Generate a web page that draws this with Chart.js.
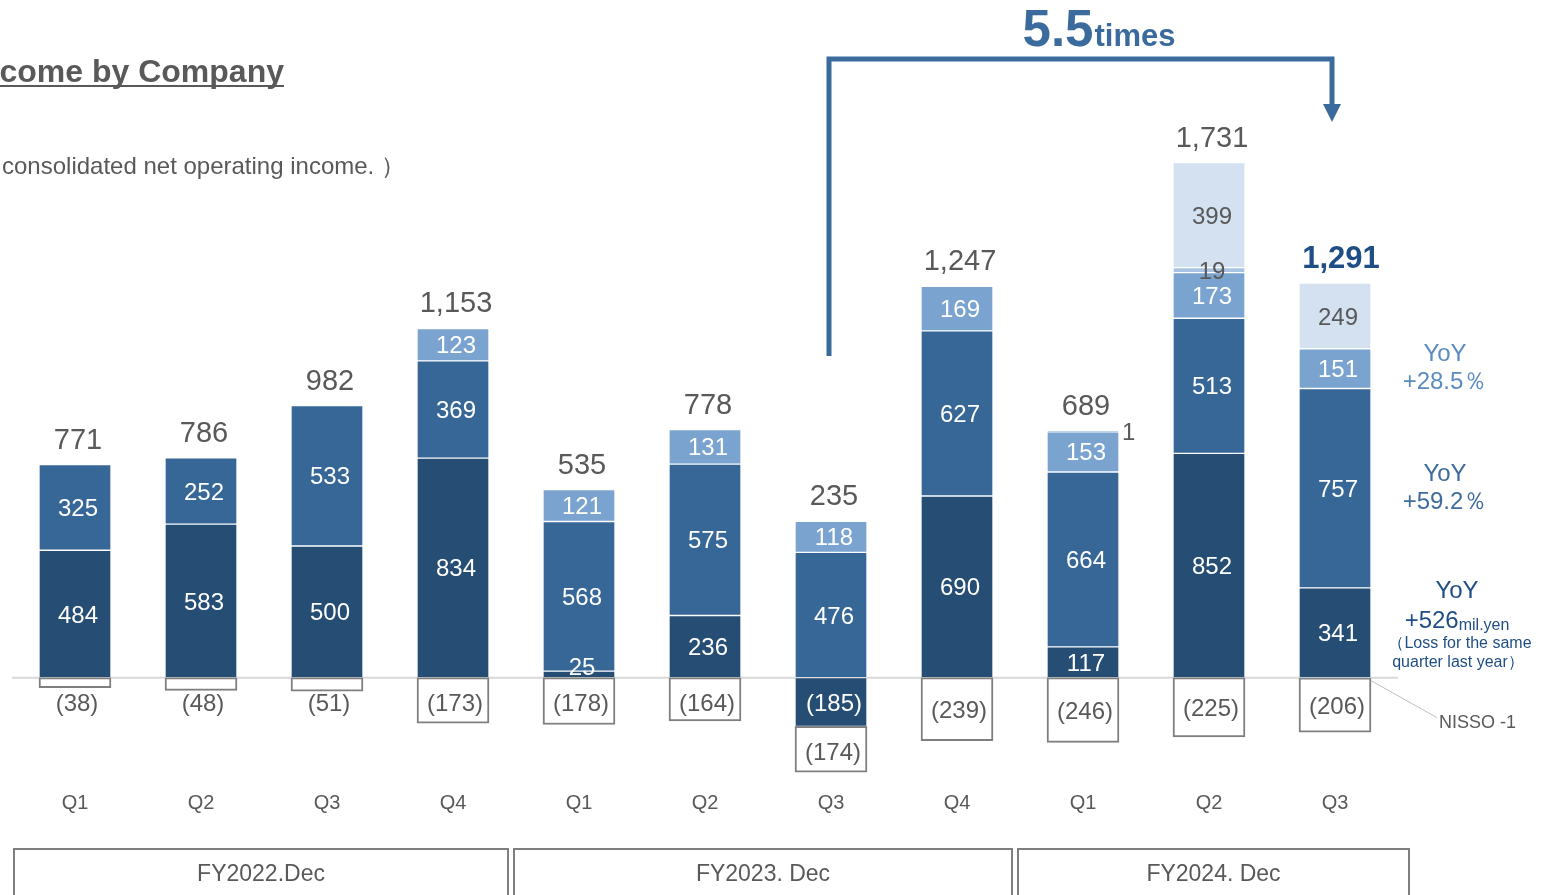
<!DOCTYPE html>
<html>
<head>
<meta charset="utf-8">
<script src="https://cdn.jsdelivr.net/npm/chart.js@4.4.1/dist/chart.umd.min.js"></script>
<style>
  html, body { margin: 0; padding: 0; background: #fff; }
  #wrap { width: 1544px; height: 895px; position: relative; }
</style>
</head>
<body>
<div id="wrap"><canvas id="incomeChart"></canvas></div>
<script>
// quarters and fiscal years
const quarters = ['Q1', 'Q2', 'Q3', 'Q4', 'Q1', 'Q2', 'Q3', 'Q4', 'Q1', 'Q2', 'Q3'];
const fiscalYears = ['FY2022.Dec', 'FY2023. Dec', 'FY2024. Dec'];
const fySpans = [4, 4, 3];

// income by company (mil. yen), bottom of the stack first
const companyA = [484, 583, 500, 834, 25, 236, -185, 690, 117, 852, 341];
const companyB = [325, 252, 533, 369, 568, 575, 476, 627, 664, 513, 757];
const companyC = [null, null, null, 123, 121, 131, 118, 169, 153, 173, 151];
const nisso = [null, null, null, null, null, null, null, null, 1, 19, -1];
const companyE = [null, null, null, null, null, null, null, null, null, 399, 249];
const adjustments = [-38, -48, -51, -173, -178, -164, -174, -239, -246, -225, -206];
const totals = [771, 786, 982, 1153, 535, 778, 235, 1247, 689, 1731, 1291];

// YoY notes for the latest quarter, matched to dataset index
const yoyNotes = [
  { ds: 2, lines: ['YoY', '+28.5％'], color: '#5b8bbf' },
  { ds: 1, lines: ['YoY', '+59.2％'], color: '#3f6c9c' },
  { ds: 0, lines: ['YoY', '+526', '（Loss for the same', 'quarter last year）'], color: '#1f4e86' }
];

const FONT = '"Liberation Sans", Arial, sans-serif';
const GRAY = '#595959';

function font(size, bold) {
  return (bold ? 'bold ' : '') + size + 'px ' + FONT;
}

const labelPlugin = {
  id: 'labels',
  beforeDatasetsDraw(chart) {
    const { ctx, chartArea, scales } = chart;
    const y0 = scales.y.getPixelForValue(0);
    ctx.save();
    ctx.strokeStyle = '#d9d9d9';
    ctx.lineWidth = 2;
    ctx.beginPath();
    ctx.moveTo(chartArea.left, y0);
    ctx.lineTo(chartArea.right, y0);
    ctx.stroke();
    ctx.restore();
  },
  afterDatasetsDraw(chart) {
    const { ctx, scales } = chart;
    const ys = scales.y;
    ctx.save();
    ctx.textAlign = 'center';
    ctx.textBaseline = 'middle';

    chart.data.datasets.forEach((ds, di) => {
      const meta = chart.getDatasetMeta(di);
      meta.data.forEach((el, i) => {
        const v = ds.data[i];
        if (v === null || v === undefined) return;
        const top = Math.min(el.y, el.base);
        const h = Math.abs(el.base - el.y);
        const cy = (el.y + el.base) / 2 + 2;
        const lx = el.x + 3;
        const txt = v < 0 ? '(' + Math.abs(v) + ')' : String(v);
        ctx.font = font(24);
        if (di <= 2) {
          ctx.fillStyle = '#ffffff';
          ctx.fillText(txt, lx, h < 20 ? cy - 8 : cy);
        } else if (di === 3) {
          ctx.fillStyle = GRAY;
          if (v >= 10) {
            ctx.fillText(txt, lx, cy);
          } else if (v > 0) {
            ctx.textAlign = 'left';
            ctx.fillText(txt, el.x + el.width / 2 + 3, cy);
            ctx.textAlign = 'center';
          } else {
            // leader line to the NISSO note
            const y0 = ys.getPixelForValue(0);
            const sx = el.x + el.width / 2;
            ctx.strokeStyle = '#bfbfbf';
            ctx.lineWidth = 1;
            ctx.beginPath();
            ctx.moveTo(sx, y0 + 3);
            ctx.lineTo(sx + 66, y0 + 40);
            ctx.stroke();
            ctx.font = font(18);
            ctx.textAlign = 'left';
            ctx.fillText('NISSO -1', sx + 68, y0 + 45);
            ctx.textAlign = 'center';
          }
        } else if (di === 4) {
          ctx.fillStyle = GRAY;
          ctx.fillText(txt, lx, cy);
        } else {
          ctx.fillStyle = GRAY;
          ctx.fillText(txt, lx - 1, Math.max(cy, top + 27));
        }
      });
    });

    // totals above each bar
    const meta0 = chart.getDatasetMeta(0);
    totals.forEach((t, i) => {
      let pos = 0;
      chart.data.datasets.forEach(ds => {
        const v = ds.data[i];
        if (v > 0) pos += v;
      });
      const x = meta0.data[i].x + 3;
      const y = ys.getPixelForValue(pos) - 24;
      const last = i === totals.length - 1;
      ctx.fillStyle = last ? '#1f4e86' : GRAY;
      ctx.font = last ? font(31, true) : font(29);
      ctx.fillText(t.toLocaleString('en-US'), last ? x + 3 : x, y);
    });

    // YoY notes beside the latest bar
    const li = quarters.length - 1;
    yoyNotes.forEach(note => {
      const el = chart.getDatasetMeta(note.ds).data[li];
      const cy = (el.y + el.base) / 2;
      const cx = el.x + 110;
      ctx.fillStyle = note.color;
      if (note.lines.length === 2) {
        ctx.font = font(24);
        ctx.fillText(note.lines[0], cx, cy - 14);
        ctx.fillText(note.lines[1], cx, cy + 14);
      } else {
        const bx = cx + 12;
        ctx.font = font(24);
        ctx.fillText(note.lines[0], bx, cy - 41);
        const w1 = ctx.measureText(note.lines[1]).width;
        ctx.font = font(16);
        const w2 = ctx.measureText('mil.yen').width;
        const sx = bx - (w1 + w2) / 2;
        ctx.textAlign = 'left';
        ctx.font = font(24);
        ctx.fillText(note.lines[1], sx, cy - 11);
        ctx.font = font(16);
        ctx.fillText('mil.yen', sx + w1, cy - 7);
        ctx.textAlign = 'center';
        ctx.fillText(note.lines[2], bx + 3, cy + 11);
        ctx.fillText(note.lines[3], bx + 1, cy + 30);
      }
    });
    ctx.restore();
  },
  afterDraw(chart) {
    const { ctx, scales } = chart;
    const xs = scales.x;
    ctx.save();

    // title (cut off at the left edge)
    ctx.fillStyle = GRAY;
    ctx.font = font(32, true);
    ctx.textAlign = 'right';
    ctx.textBaseline = 'alphabetic';
    ctx.fillText('Operating Income by Company', 284, 82);
    ctx.fillRect(0, 85, 284, 2);
    ctx.font = font(24);
    ctx.textAlign = 'left';
    ctx.fillText('consolidated net operating income. ）', 2, 174);

    // 5.5 times bracket from FY2023 Q3 to FY2024 Q3
    const xa = xs.getPixelForValue(6) - 2;
    const xb = xs.getPixelForValue(10) - 3;
    const blue = '#3b6a9c';
    ctx.strokeStyle = blue;
    ctx.fillStyle = blue;
    ctx.lineWidth = 5;
    ctx.beginPath();
    ctx.moveTo(xa, 356);
    ctx.lineTo(xa, 59);
    ctx.lineTo(xb, 59);
    ctx.lineTo(xb, 106);
    ctx.stroke();
    ctx.beginPath();
    ctx.moveTo(xb - 9, 104);
    ctx.lineTo(xb + 9, 104);
    ctx.lineTo(xb, 122);
    ctx.closePath();
    ctx.fill();

    ctx.font = font(51, true);
    const wBig = ctx.measureText('5.5').width;
    ctx.font = font(31, true);
    const wSmall = ctx.measureText('times').width;
    const mid = (xa + xb) / 2 + 18;
    const sx = mid - (wBig + wSmall) / 2;
    ctx.font = font(51, true);
    ctx.fillText('5.5', sx, 46);
    ctx.font = font(31, true);
    ctx.fillText('times', sx + wBig + 1, 46);

    // fiscal year boxes
    let start = 0;
    const half = (xs.getPixelForValue(1) - xs.getPixelForValue(0)) / 2;
    fiscalYears.forEach((fy, k) => {
      const end = start + fySpans[k] - 1;
      const l = xs.getPixelForValue(start) - half + (k === 0 ? 2 : -2);
      const r = xs.getPixelForValue(end) + half + (k === fiscalYears.length - 1 ? 11 : -8);
      ctx.strokeStyle = '#7f7f7f';
      ctx.lineWidth = 2;
      ctx.strokeRect(l, 849, r - l, 60);
      ctx.fillStyle = GRAY;
      ctx.font = font(23);
      ctx.textAlign = 'center';
      ctx.textBaseline = 'middle';
      ctx.fillText(fy, (l + r) / 2, 875);
      start = end + 1;
    });
    ctx.restore();
  }
};

const segStyle = color => ({
  backgroundColor: color,
  borderColor: 'rgba(255,255,255,0.12)',
  borderWidth: 1,
  borderSkipped: false
});

new Chart(document.getElementById('incomeChart'), {
  type: 'bar',
  data: {
    labels: quarters,
    datasets: [
      { label: 'Company A', data: companyA, ...segStyle('#264d73') },
      { label: 'Company B', data: companyB, ...segStyle('#376797') },
      { label: 'Company C', data: companyC, ...segStyle('#7aa3d0') },
      { label: 'NISSO', data: nisso, ...segStyle('#a9c3e2') },
      { label: 'Company E', data: companyE, ...segStyle('#d3e1f0') },
      {
        label: 'Adjustments',
        data: adjustments,
        backgroundColor: '#ffffff',
        borderColor: '#7f7f7f',
        borderWidth: 2,
        borderSkipped: false
      }
    ]
  },
  options: {
    responsive: true,
    maintainAspectRatio: false,
    animation: false,
    barThickness: 72,
    layout: { padding: { top: 151, left: 12, right: 146, bottom: 72 } },
    plugins: {
      legend: { display: false },
      tooltip: { enabled: false }
    },
    scales: {
      x: {
        stacked: true,
        grid: { display: false, drawTicks: false },
        border: { display: false },
        ticks: { color: GRAY, font: { family: FONT, size: 20 }, padding: 8 }
      },
      y: {
        stacked: true,
        display: false,
        min: -400,
        max: 2000
      }
    }
  },
  plugins: [labelPlugin]
});
</script>
</body>
</html>
